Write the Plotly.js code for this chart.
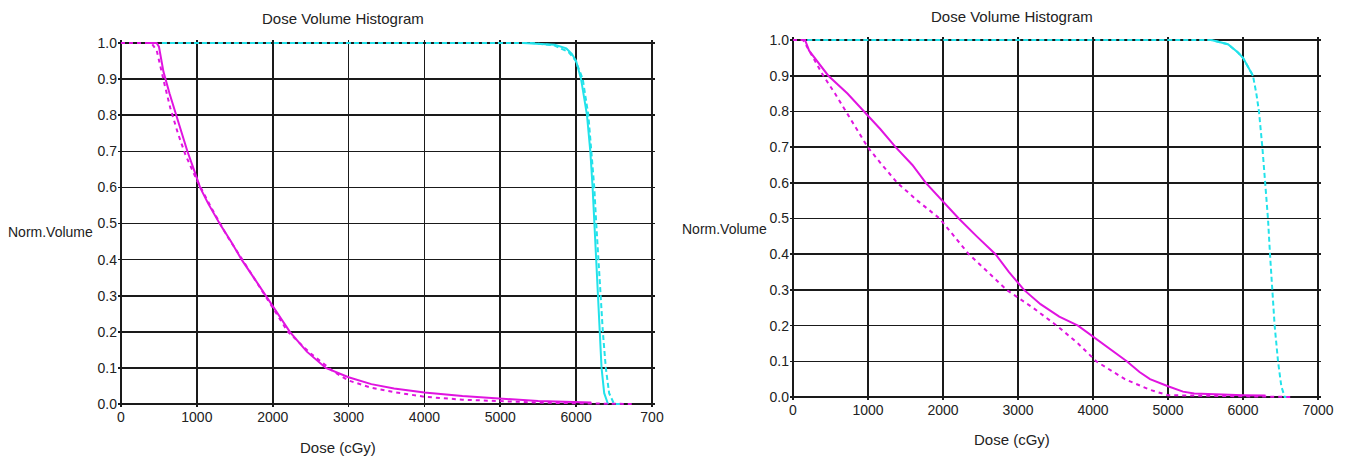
<!DOCTYPE html>
<html>
<head>
<meta charset="utf-8">
<script src="https://cdn.plot.ly/plotly-3.0.1.min.js"></script>
<style>
  html, body { margin: 0; padding: 0; background: #fff; }
  #chart { width: 1346px; height: 456px; }
</style>
</head>
<body>
<div id="chart"></div>
<script>
// ---------- Data (dose in cGy, normalized volume) ----------
// Left panel
const leftMagSolidDose = [340, 470, 500, 560, 640, 725, 800, 875, 960, 1042, 1150, 1300, 1450, 1590, 1750, 1905, 2000, 2226, 2450, 2700, 3000, 3300, 3600, 4000, 4500, 5000, 5500, 6200];
const leftMagSolidVol  = [1.0, 1.0, 0.99, 0.92, 0.86, 0.8, 0.75, 0.7, 0.65, 0.6, 0.555, 0.5, 0.45, 0.4, 0.35, 0.3, 0.27, 0.2, 0.145, 0.1, 0.074, 0.055, 0.043, 0.032, 0.022, 0.014, 0.008, 0.004];

const leftMagDashDose = [0, 400, 470, 520, 580, 650, 750, 850, 1000, 1200, 1400, 1600, 1900, 2200, 2500, 2800, 3000, 3300, 3600, 4000, 4500, 5000, 5500, 6000, 6750];
const leftMagDashVol  = [1.0, 1.0, 0.98, 0.93, 0.88, 0.82, 0.75, 0.69, 0.62, 0.54, 0.465, 0.4, 0.3, 0.2, 0.14, 0.09, 0.065, 0.045, 0.033, 0.02, 0.012, 0.007, 0.004, 0.002, 0.0];

const leftCyanSolidDose = [5300, 5717, 5870, 5943, 6000, 6065, 6143, 6187, 6217, 6239, 6261, 6283, 6304, 6335, 6370, 6420];
const leftCyanSolidVol  = [1.0, 0.995, 0.985, 0.97, 0.95, 0.9, 0.8, 0.7, 0.6, 0.5, 0.4, 0.3, 0.2, 0.1, 0.03, 0.0];

const leftCyanDashDose = [540, 5413, 5717, 5900, 5991, 6087, 6161, 6204, 6239, 6265, 6291, 6326, 6352, 6391, 6435, 6500, 6580];
const leftCyanDashVol  = [1.0, 1.0, 0.993, 0.975, 0.952, 0.9, 0.8, 0.7, 0.6, 0.5, 0.4, 0.3, 0.2, 0.1, 0.03, 0.0, 0.0];

// Right panel
const rightMagSolidDose = [100, 160, 215, 291, 471, 726, 942, 1166, 1368, 1592, 1771, 1996, 2210, 2450, 2700, 2880, 3080, 3300, 3550, 3800, 4000, 4200, 4450, 4620, 4760, 5000, 5200, 5350, 5700, 6000, 6300];
const rightMagSolidVol  = [1.0, 1.0, 0.97, 0.95, 0.9, 0.85, 0.8, 0.75, 0.7, 0.65, 0.6, 0.55, 0.5, 0.45, 0.4, 0.35, 0.3, 0.26, 0.225, 0.2, 0.17, 0.14, 0.1, 0.07, 0.05, 0.03, 0.015, 0.01, 0.007, 0.005, 0.004];

const rightMagDashDose = [0, 135, 270, 404, 560, 709, 852, 996, 1188, 1390, 1659, 1955, 2150, 2344, 2600, 2847, 3200, 3517, 3800, 4043, 4426, 4761, 5000, 5500, 6000, 6675];
const rightMagDashVol  = [1.0, 1.0, 0.95, 0.9, 0.85, 0.8, 0.75, 0.7, 0.65, 0.6, 0.55, 0.5, 0.45, 0.4, 0.35, 0.3, 0.25, 0.2, 0.15, 0.1, 0.05, 0.02, 0.005, 0.003, 0.003, 0.0];

const rightCyanSolidDose = [5578, 5800, 5933, 6000, 6133];
const rightCyanSolidVol  = [1.0, 0.988, 0.965, 0.95, 0.9];

const rightCyanDashDose = [190, 5578, 5800, 5933, 6000, 6133, 6178, 6213, 6258, 6298, 6333, 6360, 6387, 6422, 6467, 6511, 6556, 6622];
const rightCyanDashVol  = [1.0, 1.0, 0.988, 0.965, 0.95, 0.9, 0.85, 0.8, 0.7, 0.6, 0.5, 0.4, 0.3, 0.2, 0.1, 0.03, 0.0, 0.0];

const xTickVals = [0, 1000, 2000, 3000, 4000, 5000, 6000, 7000];
const xTickTextLeft  = ['0', '1000', '2000', '3000', '4000', '5000', '6000', '700'];
const xTickTextRight = ['0', '1000', '2000', '3000', '4000', '5000', '6000', '7000'];
const yTickVals = [0, 0.1, 0.2, 0.3, 0.4, 0.5, 0.6, 0.7, 0.8, 0.9, 1.0];
const yTickText = ['0.0', '0.1', '0.2', '0.3', '0.4', '0.5', '0.6', '0.7', '0.8', '0.9', '1.0'];

const chartTitle = 'Dose Volume Histogram';
const yLabel = 'Norm.Volume';
const xLabel = 'Dose (cGy)';

// ---------- Styles ----------
const MAG = '#e014e0';
const CYAN = '#22e2ea';
const FONT = 'Liberation Sans, Arial, sans-serif';
const W = 1346, H = 456;
const X0 = 0, X1 = 7000, Y0 = 0, Y1 = 1.0;
const PADX = 40, PADY = 0.008;   // small padding so curves on the frame are not clipped

function line(x, y, color, dash, xa, ya) {
  return {
    x: x, y: y, type: 'scatter', mode: 'lines',
    xaxis: xa, yaxis: ya, hoverinfo: 'skip', showlegend: false,
    line: { color: color, width: 2, dash: dash, shape: 'linear' }
  };
}

const data = [
  line(leftCyanDashDose, leftCyanDashVol, CYAN, '5px,3px', 'x', 'y'),
  line(leftCyanSolidDose, leftCyanSolidVol, CYAN, 'solid', 'x', 'y'),
  line(leftMagDashDose, leftMagDashVol, MAG, '4px,4px', 'x', 'y'),
  line(leftMagSolidDose, leftMagSolidVol, MAG, 'solid', 'x', 'y'),
  line(rightCyanDashDose, rightCyanDashVol, CYAN, '5px,3px', 'x2', 'y2'),
  line(rightCyanSolidDose, rightCyanSolidVol, CYAN, 'solid', 'x2', 'y2'),
  line(rightMagDashDose, rightMagDashVol, MAG, '4px,4px', 'x2', 'y2'),
  line(rightMagSolidDose, rightMagSolidVol, MAG, 'solid', 'x2', 'y2')
];

// pixel positions of the 0 / 7000 and 0.0 / 1.0 frame lines -> domains incl. padding
function xDomain(p0, p1) {
  const k = (p1 - p0) / (X1 - X0);
  return [(p0 - PADX * k) / W, (p1 + PADX * k) / W];
}
function yDomain(pTop, pBot) {
  const k = (pBot - pTop) / (Y1 - Y0);
  return [1 - (pBot + PADY * k) / H, 1 - (pTop - PADY * k) / H];
}

function xAxis(domain, ticktext, anchor) {
  return {
    domain: domain, anchor: anchor, range: [X0 - PADX, X1 + PADX], fixedrange: true,
    tickmode: 'array', tickvals: xTickVals, ticktext: ticktext,
    ticks: '', showgrid: true, gridcolor: '#1a1a1a', gridwidth: 1.6,
    showline: false, zeroline: false,
    tickfont: { family: FONT, size: 14, color: '#222' }
  };
}
function yAxis(domain, anchor) {
  return {
    domain: domain, anchor: anchor, range: [Y0 - PADY, Y1 + PADY], fixedrange: true,
    tickmode: 'array', tickvals: yTickVals, ticktext: yTickText,
    ticks: '', showgrid: true, gridcolor: '#1a1a1a', gridwidth: 1.6,
    showline: false, zeroline: false,
    tickfont: { family: FONT, size: 14, color: '#222' }
  };
}

function ann(text, px, py, size) {
  return {
    text: text, xref: 'paper', yref: 'paper', x: px / W, y: 1 - py / H,
    xanchor: 'center', yanchor: 'middle', showarrow: false,
    font: { family: FONT, size: size, color: '#222' }
  };
}

const layout = {
  width: W, height: H,
  margin: { l: 0, r: 0, t: 0, b: 0 },
  paper_bgcolor: '#fff', plot_bgcolor: '#fff',
  showlegend: false,
  xaxis:  xAxis(xDomain(121, 652), xTickTextLeft, 'y'),
  yaxis:  yAxis(yDomain(43, 404), 'x'),
  xaxis2: xAxis(xDomain(793, 1318), xTickTextRight, 'y2'),
  yaxis2: yAxis(yDomain(40, 397), 'x2'),
  annotations: [
    ann(chartTitle, 343, 19, 15),
    ann(chartTitle, 1012, 17, 15),
    ann(yLabel, 51, 232, 14),
    ann(yLabel, 724, 229, 14),
    ann(xLabel, 338, 447, 15),
    ann(xLabel, 1012, 439, 15)
  ]
};

Plotly.newPlot('chart', data, layout, { staticPlot: true, displayModeBar: false });
</script>
</body>
</html>
